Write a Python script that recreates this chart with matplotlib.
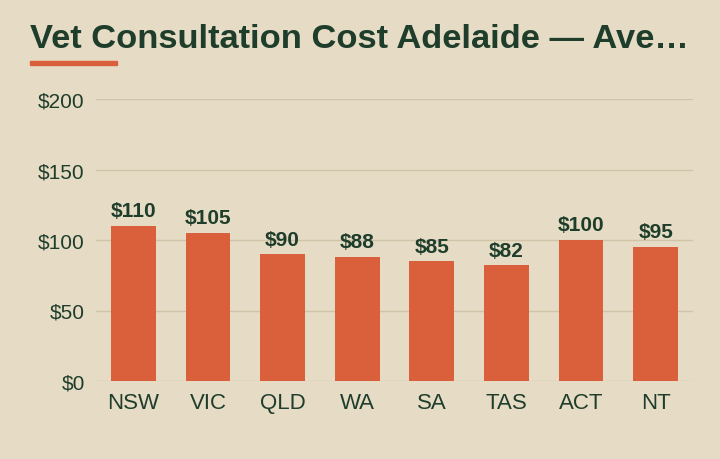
import matplotlib.pyplot as plt
from matplotlib.patches import Rectangle

# data
states = ['NSW', 'VIC', 'QLD', 'WA', 'SA', 'TAS', 'ACT', 'NT']
cost = [110, 105, 90, 88, 85, 82, 100, 95]
yticks = [0, 50, 100, 150, 200]

bg = '#E6DCC5'
bar_col = '#D9603B'
ink = '#1F3D2B'
grid_col = '#D0C4A8'

plt.rcParams['font.family'] = ['Liberation Sans', 'DejaVu Sans']

fig = plt.figure(figsize=(7.2, 4.6), dpi=100, facecolor=bg)
ax = fig.add_axes([96/720, 78/460, 597/720, 282/460])
ax.set_facecolor(bg)

x = range(len(states))
ax.bar(x, cost, width=0.6, color=bar_col, zorder=3)
for i, v in enumerate(cost):
    ax.annotate('$%d' % v, (i, v), xytext=(0, 4), textcoords='offset points',
                ha='center', va='bottom', fontsize=15, fontweight='bold', color=ink)

ax.set_xlim(-0.5, len(states) - 0.5)
ax.set_ylim(0, 200)
ax.set_yticks(yticks)
ax.set_yticklabels(['$%d' % t for t in yticks])
ax.set_xticks(list(x))
ax.set_xticklabels(states)
ax.tick_params(axis='y', length=0, pad=8, labelsize=15, labelcolor=ink)
ax.tick_params(axis='x', length=0, pad=8, labelsize=16, labelcolor=ink)
ax.grid(axis='y', color=grid_col, linewidth=1, zorder=0)
for s in ax.spines.values():
    s.set_visible(False)

fig.text(30/720, 1 - 48/460, 'Vet Consultation Cost Adelaide \u2014 Ave\u2026',
         fontsize=24.8, fontweight='bold', color=ink, ha='left', va='baseline')
fig.patches.append(Rectangle((30/720, 1 - 66/460), 87/720, 4/460,
                             transform=fig.transFigure, color=bar_col))

fig.savefig('out.png', dpi=100, facecolor=bg)
